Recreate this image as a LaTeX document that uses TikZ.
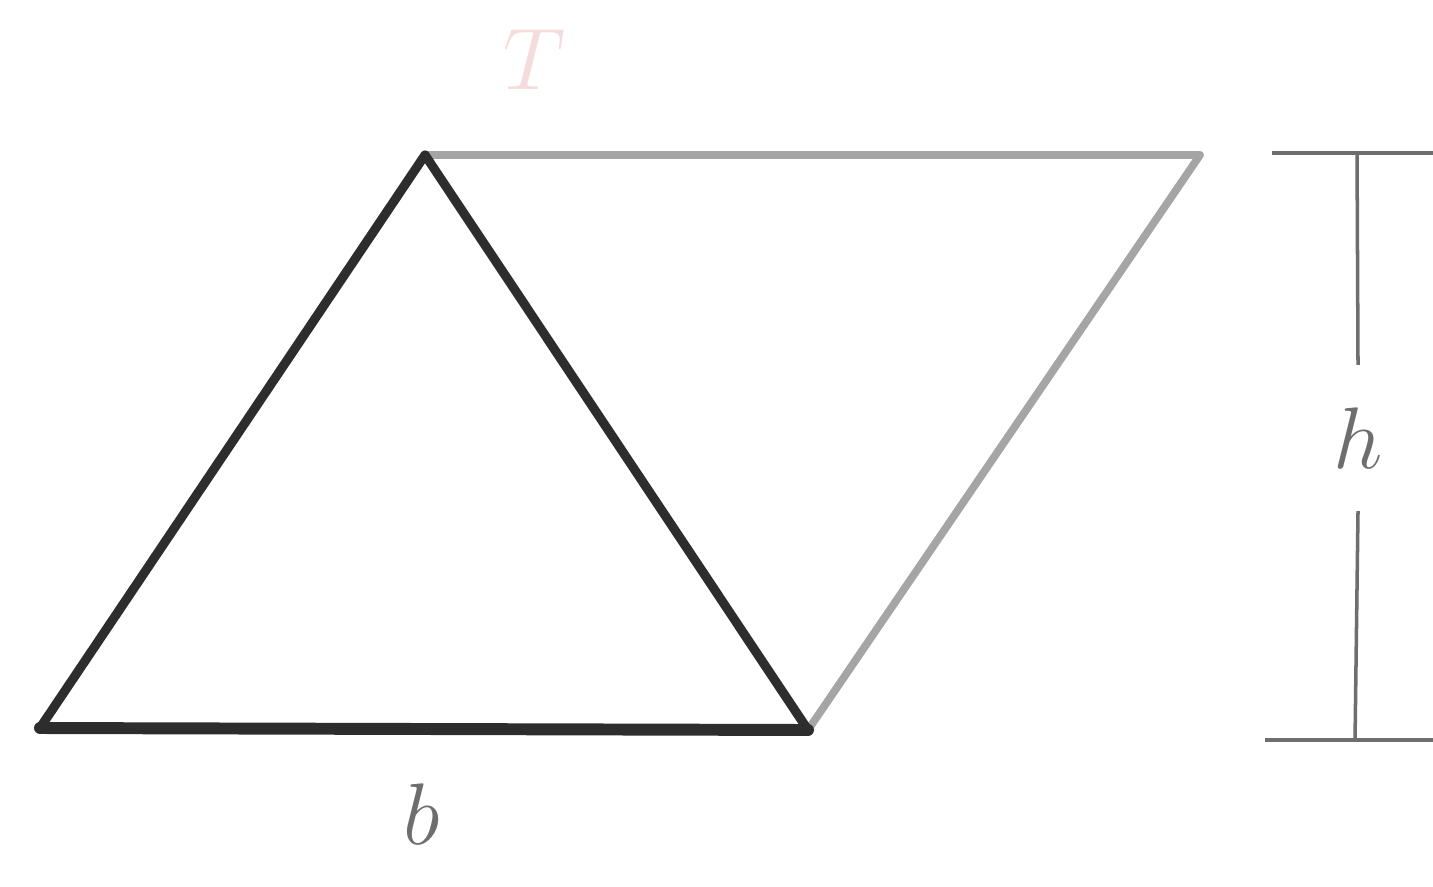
\documentclass[tikz,border=0pt]{standalone}
\usepackage{xcolor}
\usepackage{tikz}
\usetikzlibrary{positioning, calc}
\definecolor{Tinta}    {RGB}{45, 45, 45}
\definecolor{GrisClaro}{RGB}{165,165,165}
\definecolor{GrisMedio}{RGB}{110,110,110}
\definecolor{Rosado}   {RGB}{245,220,220}
\tikzset{
  lado/.style={Tinta,line width=2.6pt,line join=round,line cap=round},
  auxiliar/.style={GrisClaro,line width=2.2pt,line join=round},
  cota/.style={GrisMedio,line width=1.0pt},
  etiqueta/.style={GrisMedio,font=\fontsize{38}{38}\selectfont}
}
\begin{document}
\begin{tikzpicture}
      \useasboundingbox (0,0) rectangle (14.33,8.86);
      % vertices
      \coordinate (A) at (0.40,1.58);
      \coordinate (B) at (8.08,1.56);
      \coordinate (C) at (4.25,7.31);
      \coordinate (D) at (12.00,7.31);
      % paralelogramo auxiliar
      \draw[auxiliar] (C) -- (D) -- (B);
      % triangulo
      \draw[lado] (A) -- (C) -- (B);
      \draw[lado,line width=3.4pt] (A) -- (B);
      % cota de la altura
      \coordinate (T1) at (12.72,7.33);
      \coordinate (T2) at (14.33,7.33);
      \coordinate (U1) at (12.65,1.46);
      \coordinate (U2) at (14.33,1.46);
      \draw[cota,line width=1.4pt] (T1) -- (T2);
      \draw[cota,line width=1.4pt] (U1) -- (U2);
      \node[etiqueta,inner ysep=0.42cm] (h) at (13.58,4.48) {$h$};
      \draw[cota] (13.57,7.33) -- (h.north);
      \draw[cota] (h.south) -- (13.55,1.46);
      % etiquetas
      \node[etiqueta] (b) at (4.22,0.72) {$b$};
      \node[etiqueta,text=Rosado] (t) at (5.35,8.26) {$T$};
\end{tikzpicture}
\end{document}
